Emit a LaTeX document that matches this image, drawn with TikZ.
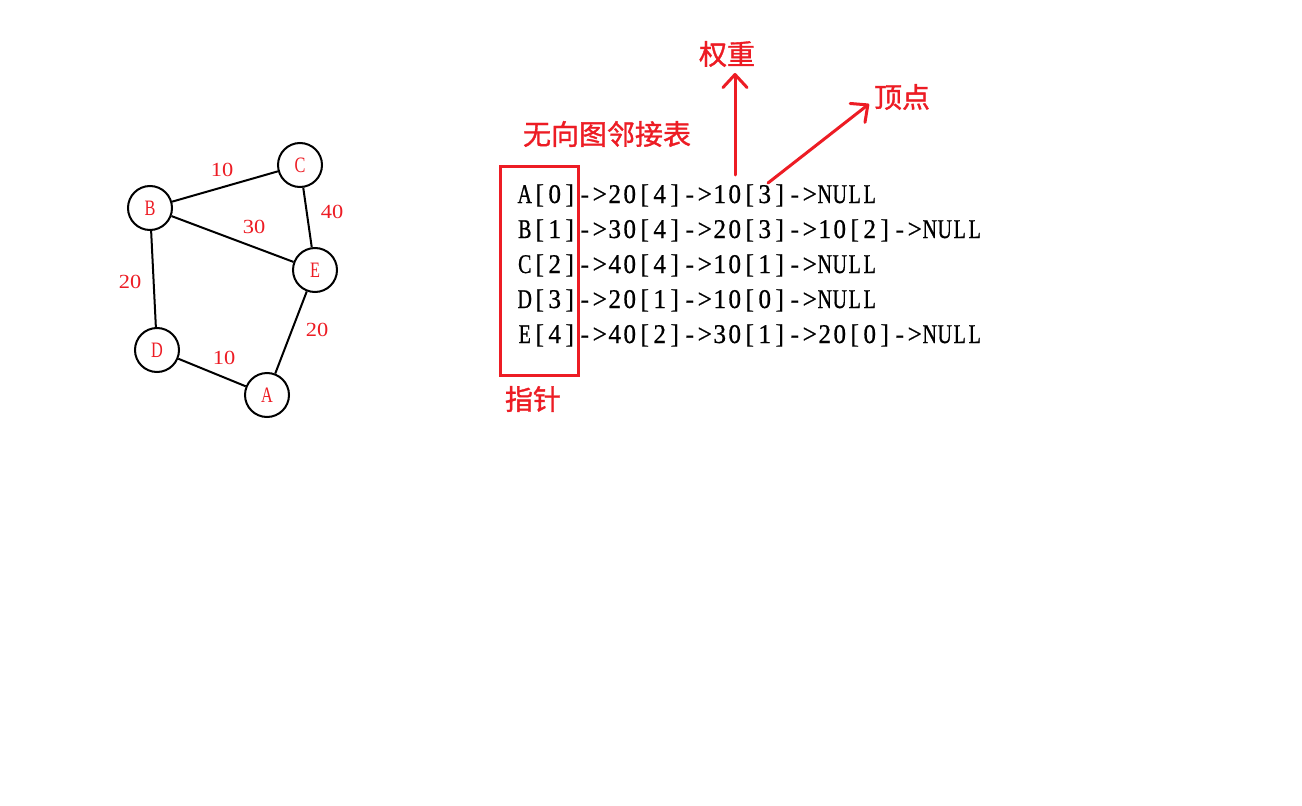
\documentclass[tikz,border=0pt]{standalone}
\usepackage{fontspec}
\usetikzlibrary{arrows.meta}
% narrow letters and digits, in the manner of a half-width serif
\newfontfamily\letterfont[FakeStretch=0.74]{Liberation Serif}
\newfontfamily\digitfont[FakeStretch=1.12]{Liberation Serif}
\newfontfamily\letterfontb[FakeStretch=0.74,FakeBold=0.8]{Liberation Serif}
\newfontfamily\symfontb[FakeStretch=0.93,FakeBold=0.8]{Liberation Serif}
\newfontfamily\cjk[FakeBold=1.2]{Noto Sans CJK SC}
\definecolor{inkred}{RGB}{237,28,36}

% fixed-pitch rows: every character sits in its own cell
\newcommand\cellbox[1]{\makebox[11.25pt][c]{#1}}
\def\monorow#1{\monorowi#1\relax}
\def\monorowi#1{\ifx#1\relax\else
  \cellbox{\ifcat#1A\letterfontb\else\symfontb\fi#1}\expandafter\monorowi\fi}

\begin{document}
\begin{tikzpicture}[x=0.75pt,y=-0.75pt,
  vertex/.style={circle, draw=black, line width=1.5pt, minimum size=33pt,
    inner sep=0pt, text=inkred, font=\letterfont\fontsize{16.5}{16.5}\selectfont},
  wlabel/.style={inner sep=0pt, text=inkred, font=\digitfont\fontsize{15}{15}\selectfont},
  gedge/.style={line width=1.5pt},
  rowtext/.style={anchor=base west, inner sep=0pt, font=\fontsize{20.25}{20.25}\selectfont},
  cjklabel/.style={inner sep=0pt, text=inkred, font=\cjk\fontsize{21}{21}\selectfont},
  pointer/.style={draw=inkred, line width=2.25pt, line cap=round,
    -{Straight Barb[length=9.75pt,width=18pt,round]}}]
\useasboundingbox (0,0) rectangle (1302,806);
\fill[white] (0,0) rectangle (1302,806);

% undirected weighted graph
\node[vertex] (C) at (300,165) {C};
\node[vertex] (B) at (150,208) {B};
\node[vertex] (E) at (315,270) {E};
\node[vertex] (D) at (157,350) {D};
\node[vertex] (A) at (267,395) {A};
\draw[gedge] (B) -- (C);
\draw[gedge] (B) -- (E);
\draw[gedge] (C) -- (E);
\draw[gedge] (B) -- (D);
\draw[gedge] (D) -- (A);
\draw[gedge] (E) -- (A);
\node[wlabel] (wBC) at (222,170) {10};
\node[wlabel] (wCE) at (332,212) {40};
\node[wlabel] (wBE) at (254,227) {30};
\node[wlabel] (wBD) at (130,282) {20};
\node[wlabel] (wEA) at (317,330) {20};
\node[wlabel] (wDA) at (224,358) {10};

% head pointers box
\node[draw=inkred, line width=2.25pt, minimum width=58.5pt, minimum height=156pt,
  inner sep=0pt] (ptrbox) at (539,271) {};

% arrows to the weight and the vertex index
\coordinate (wfrom) at (735,175);
\coordinate (wto) at (735,73);
\coordinate (vfrom) at (768,183);
\coordinate (vto) at (869,104);
\draw[pointer] (wfrom) -- (wto);
\draw[pointer] (vfrom) -- (vto);

% adjacency list
\node[rowtext] (r0) at (517,203) {\monorow{A[0]->20[4]->10[3]->NULL}};
\node[rowtext] (r1) at (517,238) {\monorow{B[1]->30[4]->20[3]->10[2]->NULL}};
\node[rowtext] (r2) at (517,273) {\monorow{C[2]->40[4]->10[1]->NULL}};
\node[rowtext] (r3) at (517,308) {\monorow{D[3]->20[1]->10[0]->NULL}};
\node[rowtext] (r4) at (517,343) {\monorow{E[4]->40[2]->30[1]->20[0]->NULL}};

% annotations
\node[cjklabel] (title) at (607,134) {无向图邻接表};
\node[cjklabel] (weight) at (727,54) {权重};
\node[cjklabel] (vert) at (902,97) {顶点};
\node[cjklabel] (ptr) at (533,399) {指针};
\end{tikzpicture}
\end{document}
